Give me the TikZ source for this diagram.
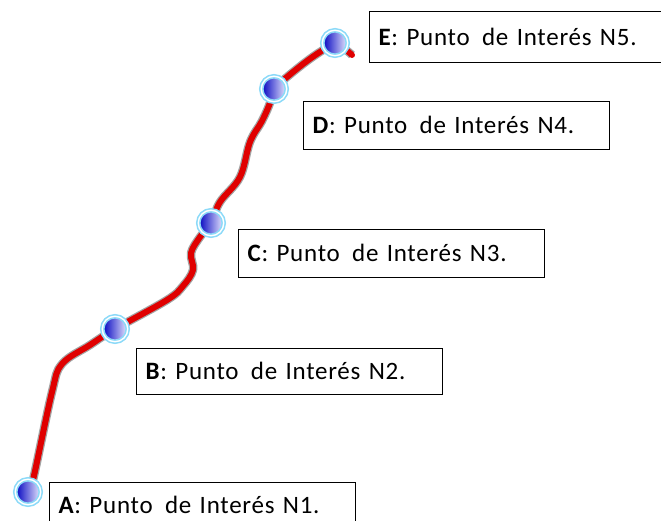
\documentclass[tikz,border=0pt]{standalone}
\usepackage{fontspec}
\setmainfont[LetterSpace=3]{Carlito}
\usetikzlibrary{backgrounds}
\tikzset{poi/.style={circle,minimum size=25.5pt,inner sep=0pt,left color=blue!75!black,right color=blue!8!white,draw=cyan!45,double=white,double distance=1.4pt,line width=1.6pt}}
\tikzset{lbl/.style={draw,line width=1.1pt,fill=white,anchor=north west,minimum height=46pt,text width=288pt,inner xsep=9pt,inner ysep=0pt,text height=16pt,text depth=0pt,align=left,font=\fontsize{25}{28}\selectfont}}
\tikzset{route/.style={line width=6pt,draw=red!88!black,line cap=round,line join=round,preaction={draw=black!65,line width=8.5pt,opacity=.55}}}

\begin{document}
\begin{tikzpicture}[x=1pt,y=-1pt]
        \useasboundingbox (0,0) rectangle (661,521);

        \node[poi] (a) at (28,492) {};
        \node[poi] (b) at (115,329) {};
        \node[poi] (c) at (211,223) {};
        \node[poi] (d) at (274,89) {};
        \node[poi] (e) at (335,43) {};

        \begin{scope}[on background layer]
        \draw[route] plot[smooth,tension=.6] coordinates {(a.center) (33,480) (52,392) (62,364) (90,345) (b.center) (167,300) (183,286) (193,270) (191,253) (200,237) (c.center) (220,202) (240,177) (250,142) (262,121) (270,103) (d.center) (287,77) (307,61) (323,50) (e.center) (352,55)};
        \end{scope}

        \node[lbl] (la) at (49,482) {\textbf{A}: Punto\hspace{4pt} de Interés N1.};
        \node[lbl] (lb) at (136,348) {\textbf{B}: Punto\hspace{4pt} de Interés N2.};
        \node[lbl,minimum height=48pt] (lc) at (238,229) {\textbf{C}: Punto\hspace{4pt} de Interés N3.};
        \node[lbl,minimum height=48pt] (ld) at (303,101) {\textbf{D}: Punto\hspace{4pt} de Interés N4.};
        \node[lbl,minimum height=51pt] (le) at (369,11) {\textbf{E}: Punto\hspace{4pt} de Interés N5.};
    \end{tikzpicture}
\end{document}
